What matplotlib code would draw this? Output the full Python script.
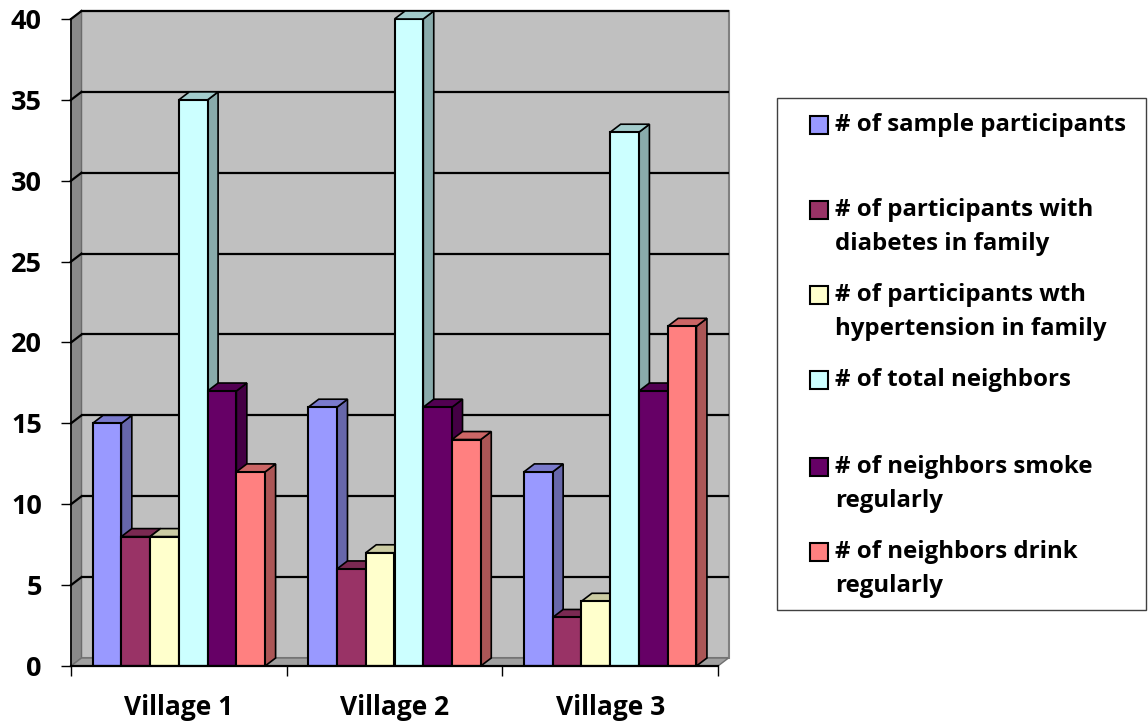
import numpy as np
import matplotlib
matplotlib.use("Agg")
import matplotlib.pyplot as plt
from matplotlib.patches import Polygon, Rectangle
from matplotlib.colors import to_rgb

# ---- data ----
villages = ["Village 1", "Village 2", "Village 3"]
series_names = [
    "# of sample participants",
    "# of participants with\ndiabetes in family",
    "# of participants wth\nhypertension in family",
    "# of total neighbors",
    "# of neighbors smoke\nregularly",
    "# of neighbors drink\nregularly",
]
sample_participants = [15, 16, 12]
diabetes_family = [8, 6, 3]
hypertension_family = [8, 7, 4]
total_neighbors = [35, 40, 33]
neighbors_smoke = [17, 16, 17]
neighbors_drink = [12, 14, 21]
series_values = [sample_participants, diabetes_family, hypertension_family,
                 total_neighbors, neighbors_smoke, neighbors_drink]
series_colors = ["#9999FF", "#993366", "#FFFFCC", "#CCFFFF", "#660066", "#FF8080"]
y_ticks = [0, 5, 10, 15, 20, 25, 30, 35, 40]

FONT = "Open Sans"
W, H = 1148, 723
fig = plt.figure(figsize=(W / 100, H / 100), dpi=100)
fig.patch.set_facecolor("white")

# axes placed in pixel terms
ax_l, ax_r, ax_top, ax_bot = 71, 718, 19, 666
ax = fig.add_axes([ax_l / W, (H - ax_bot) / H, (ax_r - ax_l) / W, (ax_bot - ax_top) / H])
ax.set_xlim(-0.5, 2.5)
ax.set_ylim(0, 40)
ax.patch.set_visible(False)

# depth offset of the 3-D box, in data units
px_x = (ax_r - ax_l) / 3.0
px_y = (ax_bot - ax_top) / 40.0
DX = 10.5 / px_x
DY = 8.0 / px_y

def shade(c, f):
    r, g, b = to_rgb(c)
    return (r * f, g * f, b * f)

# walls and floor
x0, x1, ytop = -0.5, 2.5, 40
ax.add_patch(Polygon([(x0 + DX, DY), (x1 + DX, DY), (x1 + DX, ytop + DY), (x0 + DX, ytop + DY)],
                     closed=True, facecolor="#C0C0C0", edgecolor="#808080", lw=1.5,
                     zorder=0.5, clip_on=False))
ax.add_patch(Polygon([(x0, 0), (x0 + DX, DY), (x0 + DX, ytop + DY), (x0, ytop)],
                     closed=True, facecolor="#8A8A8A", edgecolor="#6A6A6A", lw=1.0,
                     zorder=0.6, clip_on=False))
ax.add_patch(Polygon([(x0, 0), (x1, 0), (x1 + DX, DY), (x0 + DX, DY)],
                     closed=True, facecolor="#A0A0A0", edgecolor="#707070", lw=1.0,
                     zorder=0.6, clip_on=False))

# gridlines on the back and side walls
for t in y_ticks[1:]:
    ax.plot([x0 + DX, x1 + DX], [t + DY, t + DY], color="black", lw=1.6, zorder=0.8,
            clip_on=False, solid_capstyle="butt")
    ax.plot([x0, x0 + DX], [t, t + DY], color="black", lw=1.6, zorder=0.8, clip_on=False)

# 3-D bars: front face via ax.bar, side and top faces as polygons
n = len(series_values)
group = 0.8
bw = group / n
xc = np.arange(len(villages))
z = 2.0
for i in range(len(villages)):
    for j, (vals, col) in enumerate(zip(series_values, series_colors)):
        left = xc[i] - group / 2 + j * bw
        v = vals[i]
        ax.bar(left, v, width=bw, align="edge", color=col, edgecolor="black",
               lw=1.5, zorder=z + 0.3)
        ax.add_patch(Polygon([(left + bw, 0), (left + bw + DX, DY), (left + bw + DX, v + DY),
                              (left + bw, v)], closed=True, facecolor=shade(col, 0.67),
                             edgecolor="black", lw=1.2, zorder=z, clip_on=False))
        ax.add_patch(Polygon([(left, v), (left + bw, v), (left + bw + DX, v + DY),
                              (left + DX, v + DY)], closed=True, facecolor=shade(col, 0.8),
                             edgecolor="black", lw=1.2, zorder=z + 0.1, clip_on=False))
        z += 1

# axes lines and ticks
for s in ["top", "right"]:
    ax.spines[s].set_visible(False)
ax.spines["left"].set_color("black")
ax.spines["bottom"].set_color("black")
ax.spines["left"].set_linewidth(1.2)
ax.spines["bottom"].set_linewidth(1.6)
ax.spines["left"].set_zorder(1)
ax.spines["bottom"].set_zorder(100)

ax.set_yticks(y_ticks)
ax.set_yticklabels([str(t) for t in y_ticks])
ax.tick_params(axis="y", direction="out", length=7.5, width=1.0, pad=13.5,
               labelsize=19.5)
ax.set_xticks([-0.5, 0.5, 1.5, 2.5])
ax.set_xticklabels([])
ax.set_xticks(xc, minor=True)
ax.set_xticklabels(villages, minor=True)
ax.tick_params(axis="x", which="major", direction="out", length=7.5, width=1.0)
ax.tick_params(axis="x", which="minor", length=0, pad=20, labelsize=19)
for lab in ax.get_yticklabels() + ax.get_xticklabels(minor=True):
    lab.set_fontfamily(FONT)
    lab.set_fontweight("bold")

# legend box
def fx(px):
    return px / W

def fy(py):
    return (H - py) / H

lx0, lx1, ly0, ly1 = 777, 1146, 98, 610
fig.patches.append(Rectangle((fx(lx0), fy(ly1)), fx(lx1) - fx(lx0), fy(ly0) - fy(ly1),
                             transform=fig.transFigure, facecolor="white",
                             edgecolor="#404040", lw=1.0))
first_line_y = [125, 210, 295, 380, 467, 552]
line_pitch = 34
for name, col, yy in zip(series_names, series_colors, first_line_y):
    fig.patches.append(Rectangle((fx(810), fy(yy + 9)), fx(828) - fx(810), fy(yy - 9) - fy(yy + 9),
                                 transform=fig.transFigure, facecolor=col,
                                 edgecolor="black", lw=1.5))
    for k, line in enumerate(name.split("\n")):
        fig.text(fx(835), fy(yy + k * line_pitch), line, fontsize=17.3, fontweight="bold",
                 family=FONT, ha="left", va="center")

fig.savefig("out.png", dpi=100, facecolor="white")
